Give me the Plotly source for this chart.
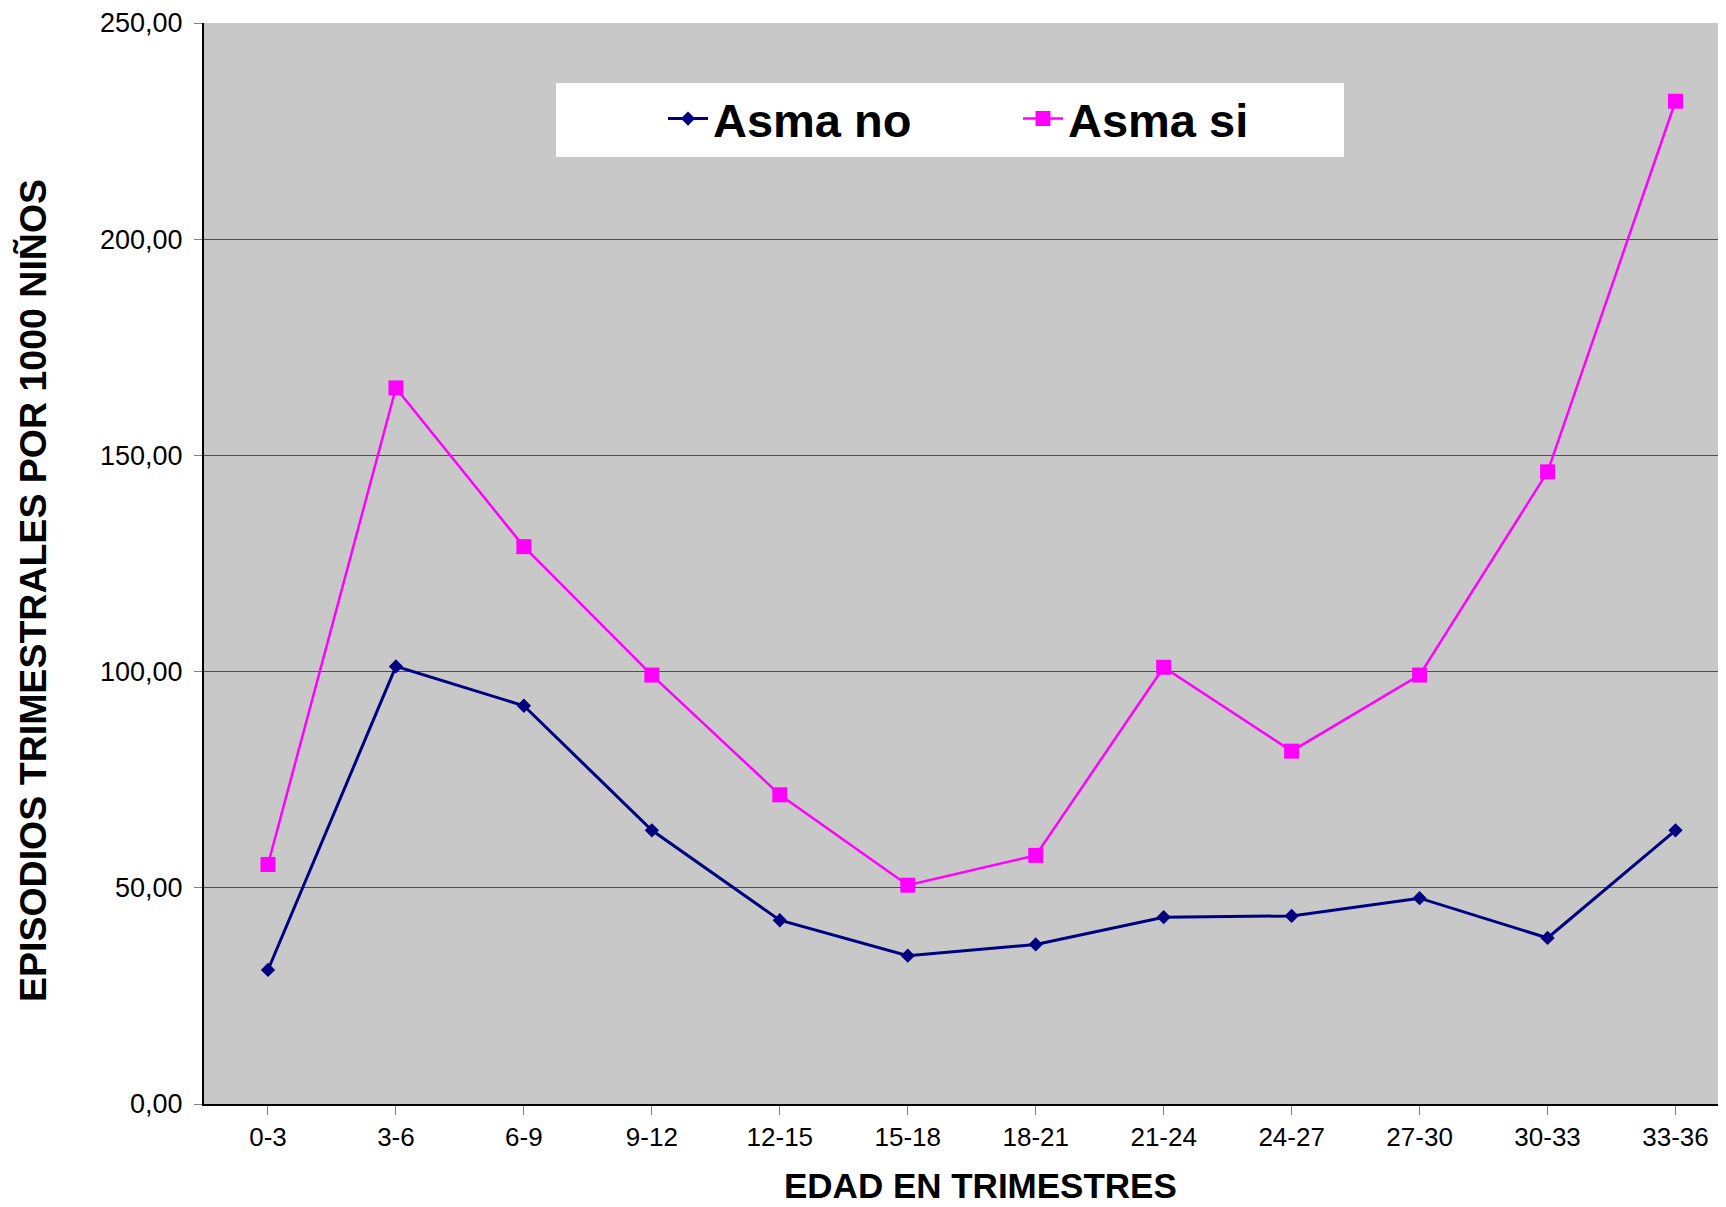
import plotly.graph_objects as go

categories = ["0-3", "3-6", "6-9", "9-12", "12-15", "15-18", "18-21", "21-24", "24-27", "27-30", "30-33", "33-36"]
asma_no = [31.0, 101.2, 92.1, 63.3, 42.5, 34.3, 36.9, 43.2, 43.5, 47.6, 38.4, 63.3]
asma_si = [55.4, 165.6, 128.9, 99.2, 71.5, 50.6, 57.5, 101.0, 81.6, 99.2, 146.2, 231.9]

# page body has an 8px margin; work in screen coords and convert
OFF = 8
W, H = 1726 - OFF, 1207 - OFF
L, T = 204 - OFF, 23 - OFF
PLOT_BOTTOM = 1104 - OFF
R = 0
B = H - PLOT_BOTTOM
pw = W - L - R
ph = H - T - B

def px(x):  # screen x -> paper
    return (x - OFF - L) / pw

def py(y):  # screen y -> paper
    return (PLOT_BOTTOM - (y - OFF)) / ph

FONT = "Arial, 'Liberation Sans', sans-serif"

fig = go.Figure()
fig.add_trace(go.Scatter(
    x=list(range(len(categories))), y=asma_no, name="Asma no",
    mode="lines+markers",
    line=dict(color="#000080", width=3),
    marker=dict(symbol="diamond", size=11, color="#000080"),
))
fig.add_trace(go.Scatter(
    x=list(range(len(categories))), y=asma_si, name="Asma si",
    mode="lines+markers",
    line=dict(color="#FF00FF", width=2.5),
    marker=dict(symbol="square", size=15, color="#FF00FF"),
))

cat_w = 128
x_left_boundary = 203.5  # screen x of left edge of first category
x_max = (1726 - x_left_boundary) / cat_w - 0.5

fig.update_layout(
    width=W, height=H,
    margin=dict(l=L, r=R, t=T, b=B, pad=0),
    paper_bgcolor="white",
    plot_bgcolor="#C8C8C8",
    separators=",.",
    font=dict(family=FONT, color="black", size=25),
    showlegend=True,
    legend=dict(
        orientation="h",
        x=px(1018), xanchor="center",
        y=py(119), yanchor="middle",
        bgcolor="rgba(0,0,0,0)",
        font=dict(family=FONT, size=47, weight="bold", color="black"),
        itemwidth=40,
        entrywidth=300,
        entrywidthmode="pixels",
    ),
    shapes=[dict(
        type="rect", xref="paper", yref="paper",
        x0=px(556), x1=px(1344), y0=py(157), y1=py(83),
        fillcolor="white", line=dict(width=0), layer="below",
    )],
    annotations=[
        dict(text="<b>EPISODIOS TRIMESTRALES POR 1000 NIÑOS</b>",
             xref="paper", yref="paper", x=px(33), y=py(591),
             xanchor="center", yanchor="middle", textangle=-90,
             showarrow=False, font=dict(family=FONT, size=37.5, color="black")),
        dict(text="<b>EDAD EN TRIMESTRES</b>",
             xref="paper", yref="paper", x=px(980), y=py(1185),
             xanchor="center", yanchor="middle",
             showarrow=False, font=dict(family=FONT, size=35, color="black")),
    ],
)

fig.update_xaxes(
    range=[-0.5, x_max],
    tickmode="array",
    tickvals=list(range(len(categories))),
    ticktext=categories,
    tickson="boundaries",
    ticks="outside", ticklen=9, tickcolor="#808080", tickwidth=1,
    showgrid=False, zeroline=False,
    showline=True, linecolor="black", linewidth=2,
    tickfont=dict(family=FONT, size=26, color="black"),
)
fig.update_yaxes(
    range=[0, 250], dtick=50, tick0=0, tickformat=".2f",
    ticks="outside", ticklen=8, tickcolor="#808080", tickwidth=1,
    showgrid=True, gridcolor="#505050", gridwidth=1,
    zeroline=False,
    showline=True, linecolor="black", linewidth=2,
    tickfont=dict(family=FONT, size=27, color="black"),
    ticklabelstandoff=6,
)

fig.write_html("out.html")
